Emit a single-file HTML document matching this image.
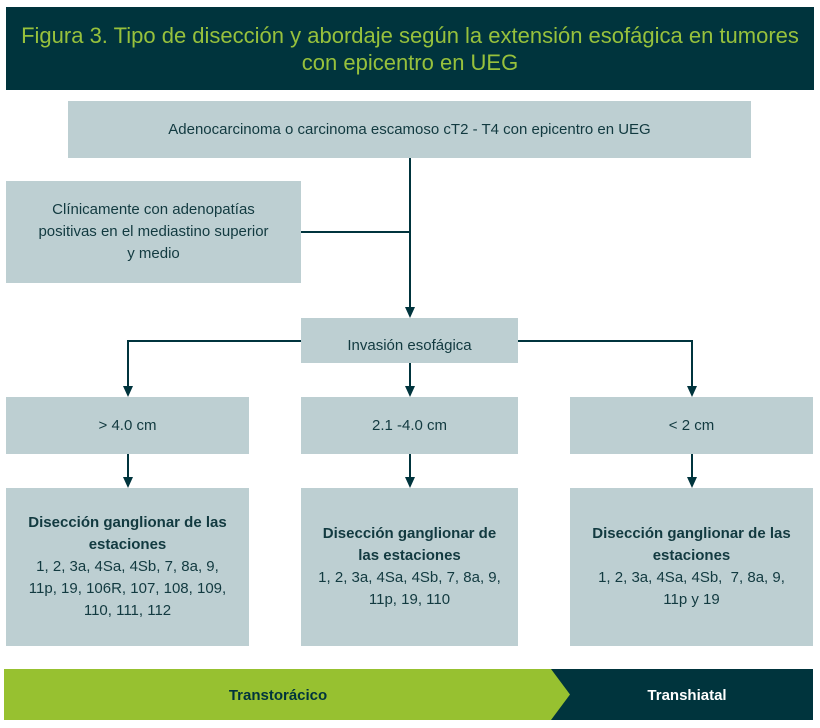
<!DOCTYPE html><html><head><meta charset="utf-8"><style>
body{margin:0;width:820px;height:728px;background:#fff;font-family:"Liberation Sans",sans-serif;position:relative;overflow:hidden}
.b{position:absolute;background:#bdcfd2;color:#123a40;display:flex;align-items:center;justify-content:center;text-align:center;font-size:15px;line-height:22px;box-sizing:border-box}
.l{position:absolute;background:#00343d}
.a{position:absolute;width:0;height:0;border-left:5px solid transparent;border-right:5px solid transparent;border-top:11px solid #00343d}
</style></head><body>
<div style="position:absolute;left:6px;top:7px;width:808px;height:83px;background:#00343d;color:#97c13c;font-size:22px;line-height:27px;text-align:center;display:flex;align-items:center;justify-content:center">Figura 3. Tipo de disección y abordaje según la extensión esofágica en tumores<br>con epicentro en UEG</div>
<div class="b" style="left:68px;top:101px;width:683px;height:57px">Adenocarcinoma o carcinoma escamoso cT2 - T4 con epicentro en UEG</div>
<div class="b" style="left:6px;top:181px;width:295px;height:102px;padding:0 20px"><div>Clínicamente con adenopatías<br>positivas en el mediastino superior<br>y medio</div></div>
<div class="l" style="left:409px;top:158px;width:2px;height:150px"></div>
<div class="l" style="left:301px;top:231px;width:109px;height:2px"></div>
<div class="a" style="left:405px;top:307px"></div>
<div class="b" style="left:301px;top:318px;width:217px;height:45px;padding-top:10px">Invasión esofágica</div>
<div class="l" style="left:127px;top:340px;width:174px;height:2px"></div>
<div class="l" style="left:518px;top:340px;width:174px;height:2px"></div>
<div class="l" style="left:127px;top:340px;width:2px;height:47px"></div>
<div class="l" style="left:691px;top:340px;width:2px;height:47px"></div>
<div class="l" style="left:409px;top:363px;width:2px;height:24px"></div>
<div class="a" style="left:123px;top:386px"></div><div class="a" style="left:405px;top:386px"></div><div class="a" style="left:687px;top:386px"></div>
<div class="b" style="left:6px;top:397px;width:243px;height:57px">&gt; 4.0 cm</div>
<div class="b" style="left:301px;top:397px;width:217px;height:57px">2.1 -4.0 cm</div>
<div class="b" style="left:570px;top:397px;width:243px;height:57px">&lt; 2 cm</div>
<div class="l" style="left:127px;top:454px;width:2px;height:24px"></div><div class="l" style="left:409px;top:454px;width:2px;height:24px"></div><div class="l" style="left:691px;top:454px;width:2px;height:24px"></div>
<div class="a" style="left:123px;top:477px"></div><div class="a" style="left:405px;top:477px"></div><div class="a" style="left:687px;top:477px"></div>
<div class="b" style="left:6px;top:488px;width:243px;height:158px;padding:0 8px"><div><b>Disección ganglionar de las<br>estaciones</b><br>1, 2, 3a, 4Sa, 4Sb, 7, 8a, 9,<br>11p, 19, 106R, 107, 108, 109,<br>110, 111, 112</div></div>
<div class="b" style="left:301px;top:488px;width:217px;height:158px;padding:0 8px"><div><b>Disección ganglionar de<br>las estaciones</b><br>1, 2, 3a, 4Sa, 4Sb, 7, 8a, 9,<br>11p, 19, 110</div></div>
<div class="b" style="left:570px;top:488px;width:243px;height:158px;padding:0 8px"><div><b>Disección ganglionar de las<br>estaciones</b><br>1, 2, 3a, 4Sa, 4Sb,&nbsp; 7, 8a, 9,<br>11p y 19</div></div>
<svg style="position:absolute;left:0;top:0" width="820" height="728">
<rect x="551" y="669" width="262" height="51" fill="#00343d"/>
<polygon points="4,669 551,669 570,694.5 551,720 4,720" fill="#97c130"/>
<text x="278" y="700" font-size="15" font-weight="bold" fill="#00343d" text-anchor="middle" font-family="Liberation Sans">Transtorácico</text>
<text x="687" y="700" font-size="15" font-weight="bold" fill="#fff" text-anchor="middle" font-family="Liberation Sans">Transhiatal</text>
</svg>
</body></html>
